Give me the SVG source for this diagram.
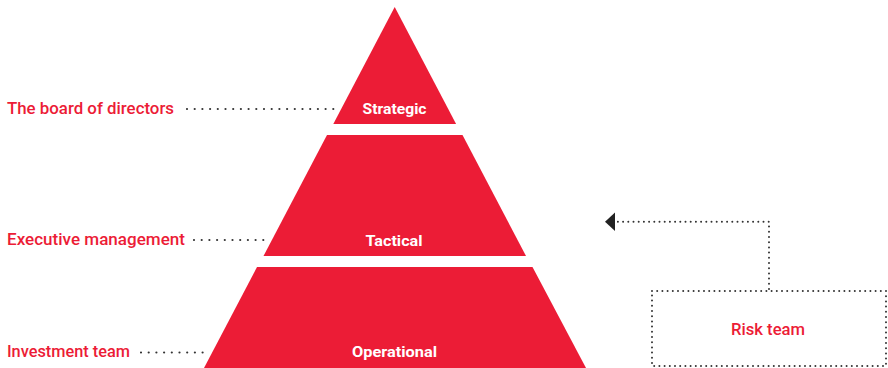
<svg xmlns="http://www.w3.org/2000/svg" width="888" height="368" viewBox="0 0 888 368">
<style>
.tier{fill:#EC1C36}
.tl{font-family:Roboto,"Liberation Sans",Arial,sans-serif;font-weight:bold;font-size:14.5px;fill:#fff;text-anchor:middle}
.lbl{font-family:Roboto,"Liberation Sans",Arial,sans-serif;font-weight:500;font-size:16.5px;fill:#EC1C36}
.dot{fill:none;stroke:#333;stroke-width:2.2;stroke-linecap:round;stroke-dasharray:0 7.7}
</style>
<rect width="888" height="368" fill="#fff"/>
<g id="strategic">
<polygon class="tier" points="394.7,7 333.3,124 456.1,124"/>
<text class="tl" x="394.5" y="113.5" textLength="64" lengthAdjust="spacingAndGlyphs">Strategic</text>
</g>
<g id="tactical">
<polygon class="tier" points="327,135 462.5,135 526,256 263.5,256"/>
<text class="tl" x="394" y="246" textLength="57" lengthAdjust="spacingAndGlyphs">Tactical</text>
</g>
<g id="operational">
<polygon class="tier" points="257,267 532.5,267 586,368 204,368"/>
<text class="tl" x="394.5" y="357" textLength="85" lengthAdjust="spacingAndGlyphs">Operational</text>
</g>
<g id="board">
<text class="lbl" x="7" y="113.5" textLength="167" lengthAdjust="spacingAndGlyphs">The board of directors</text>
</g>
<g id="executive">
<text class="lbl" x="7" y="245" textLength="178" lengthAdjust="spacingAndGlyphs">Executive management</text>
</g>
<g id="investment">
<text class="lbl" x="7" y="357" textLength="123" lengthAdjust="spacingAndGlyphs">Investment team</text>
</g>
<g id="risk">
<rect x="652" y="291" width="234" height="75" fill="none" stroke="#333" stroke-width="2" stroke-dasharray="0 5.2" stroke-linecap="round"/>
<text class="lbl" x="768" y="335" text-anchor="middle" textLength="74" lengthAdjust="spacingAndGlyphs">Risk team</text>
</g>
<g id="connectors">
<line class="dot" x1="187" y1="109" x2="335" y2="109"/>
<line class="dot" x1="194" y1="240" x2="268" y2="240"/>
<line class="dot" x1="141" y1="352.5" x2="207" y2="352.5"/>
<polyline fill="none" stroke="#333" stroke-width="2" stroke-linecap="round" stroke-dasharray="0 5.2" points="769,289 769,221.7 616,221.7"/>
<polygon points="605,221.7 615,212.5 615,231" fill="#222"/>
</g>
</svg>
